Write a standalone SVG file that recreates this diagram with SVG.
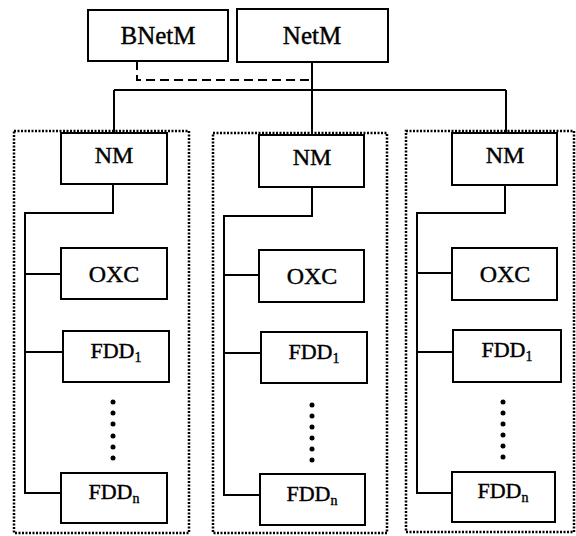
<svg xmlns="http://www.w3.org/2000/svg" width="576" height="536" viewBox="0 0 576 536">
<style>
.box{fill:#fff;stroke:#000;stroke-width:2}
.grp{fill:none;stroke:#000;stroke-width:2.5;stroke-dasharray:2 1.5}
.ln{fill:none;stroke:#000;stroke-width:2}
.dash{fill:none;stroke:#000;stroke-width:2;stroke-dasharray:9 5}
.t{font-family:"Liberation Serif",Tinos,"Times New Roman","DejaVu Serif",serif;fill:#000;stroke:#000;stroke-width:0.4;text-anchor:middle}
.big{font-size:25px}
.mid{font-size:24px}
.sm{font-size:22px}
.sub{font-size:14px}
</style>
<rect width="576" height="536" fill="#fff"/>
<g id="groups">
<rect class="grp" x="14" y="131" width="175" height="402"/>
<rect class="grp" x="213" y="133" width="174" height="400"/>
<rect class="grp" x="406" y="131" width="168" height="401"/>
</g>
<g id="connectors">
<path class="ln" d="M114 90H506M312 62V135M114 90V133M506 90V133"/>
<path class="dash" d="M137 61V80H312"/>
<path class="ln" d="M113 184V213H25V493H61M25 274H61M25 352H63"/>
<path class="ln" d="M312 187V216H224V495H260M224 275H259M224 353H261"/>
<path class="ln" d="M505 185V213H417V493H452M417 273H452M417 352H453"/>
</g>
<g id="BNetM"><rect class="box" x="88" y="10" width="140" height="51"/><text class="t big" x="158" y="44">BNetM</text></g>
<g id="NetM"><rect class="box" x="237" y="9" width="151" height="53"/><text class="t big" x="312" y="44">NetM</text></g>
<g id="NM1"><rect class="box" x="61" y="133" width="106" height="51"/><text class="t mid" x="114" y="163">NM</text></g>
<g id="OXC1"><rect class="box" x="61" y="248" width="106" height="51"/><text class="t mid" x="114" y="282">OXC</text></g>
<g id="FDD1_1"><rect class="box" x="63" y="331" width="106" height="51"/><text class="t sm" x="116" y="358">FDD<tspan class="sub" dy="4">1</tspan></text></g>
<g id="dots1" fill="#000"><circle cx="113" cy="402" r="2.5"/><circle cx="113" cy="413" r="2.5"/><circle cx="113" cy="424" r="2.5"/><circle cx="113" cy="436" r="2.5"/><circle cx="113" cy="447" r="2.5"/><circle cx="113" cy="458" r="2.5"/></g>
<g id="FDDn_1"><rect class="box" x="61" y="473" width="106" height="50"/><text class="t sm" x="114" y="499">FDD<tspan class="sub" dy="4">n</tspan></text></g>
<g id="NM2"><rect class="box" x="259" y="135" width="105" height="52"/><text class="t mid" x="312" y="165">NM</text></g>
<g id="OXC2"><rect class="box" x="259" y="250" width="105" height="52"/><text class="t mid" x="312" y="284">OXC</text></g>
<g id="FDD1_2"><rect class="box" x="261" y="332" width="106" height="51"/><text class="t sm" x="314" y="359">FDD<tspan class="sub" dy="4">1</tspan></text></g>
<g id="dots2" fill="#000"><circle cx="312" cy="405" r="2.5"/><circle cx="312" cy="416" r="2.5"/><circle cx="312" cy="427" r="2.5"/><circle cx="312" cy="438" r="2.5"/><circle cx="312" cy="449" r="2.5"/><circle cx="312" cy="460" r="2.5"/></g>
<g id="FDDn_2"><rect class="box" x="260" y="474" width="105" height="51"/><text class="t sm" x="312" y="501">FDD<tspan class="sub" dy="4">n</tspan></text></g>
<g id="NM3"><rect class="box" x="452" y="133" width="105" height="52"/><text class="t mid" x="505" y="163">NM</text></g>
<g id="OXC3"><rect class="box" x="452" y="248" width="105" height="52"/><text class="t mid" x="505" y="282">OXC</text></g>
<g id="FDD1_3"><rect class="box" x="453" y="330" width="108" height="52"/><text class="t sm" x="507" y="357">FDD<tspan class="sub" dy="4">1</tspan></text></g>
<g id="dots3" fill="#000"><circle cx="503" cy="402" r="2.5"/><circle cx="503" cy="413" r="2.5"/><circle cx="503" cy="424" r="2.5"/><circle cx="503" cy="435" r="2.5"/><circle cx="503" cy="446" r="2.5"/><circle cx="503" cy="457" r="2.5"/></g>
<g id="FDDn_3"><rect class="box" x="452" y="472" width="103" height="50"/><text class="t sm" x="503" y="498">FDD<tspan class="sub" dy="4">n</tspan></text></g>
</svg>
